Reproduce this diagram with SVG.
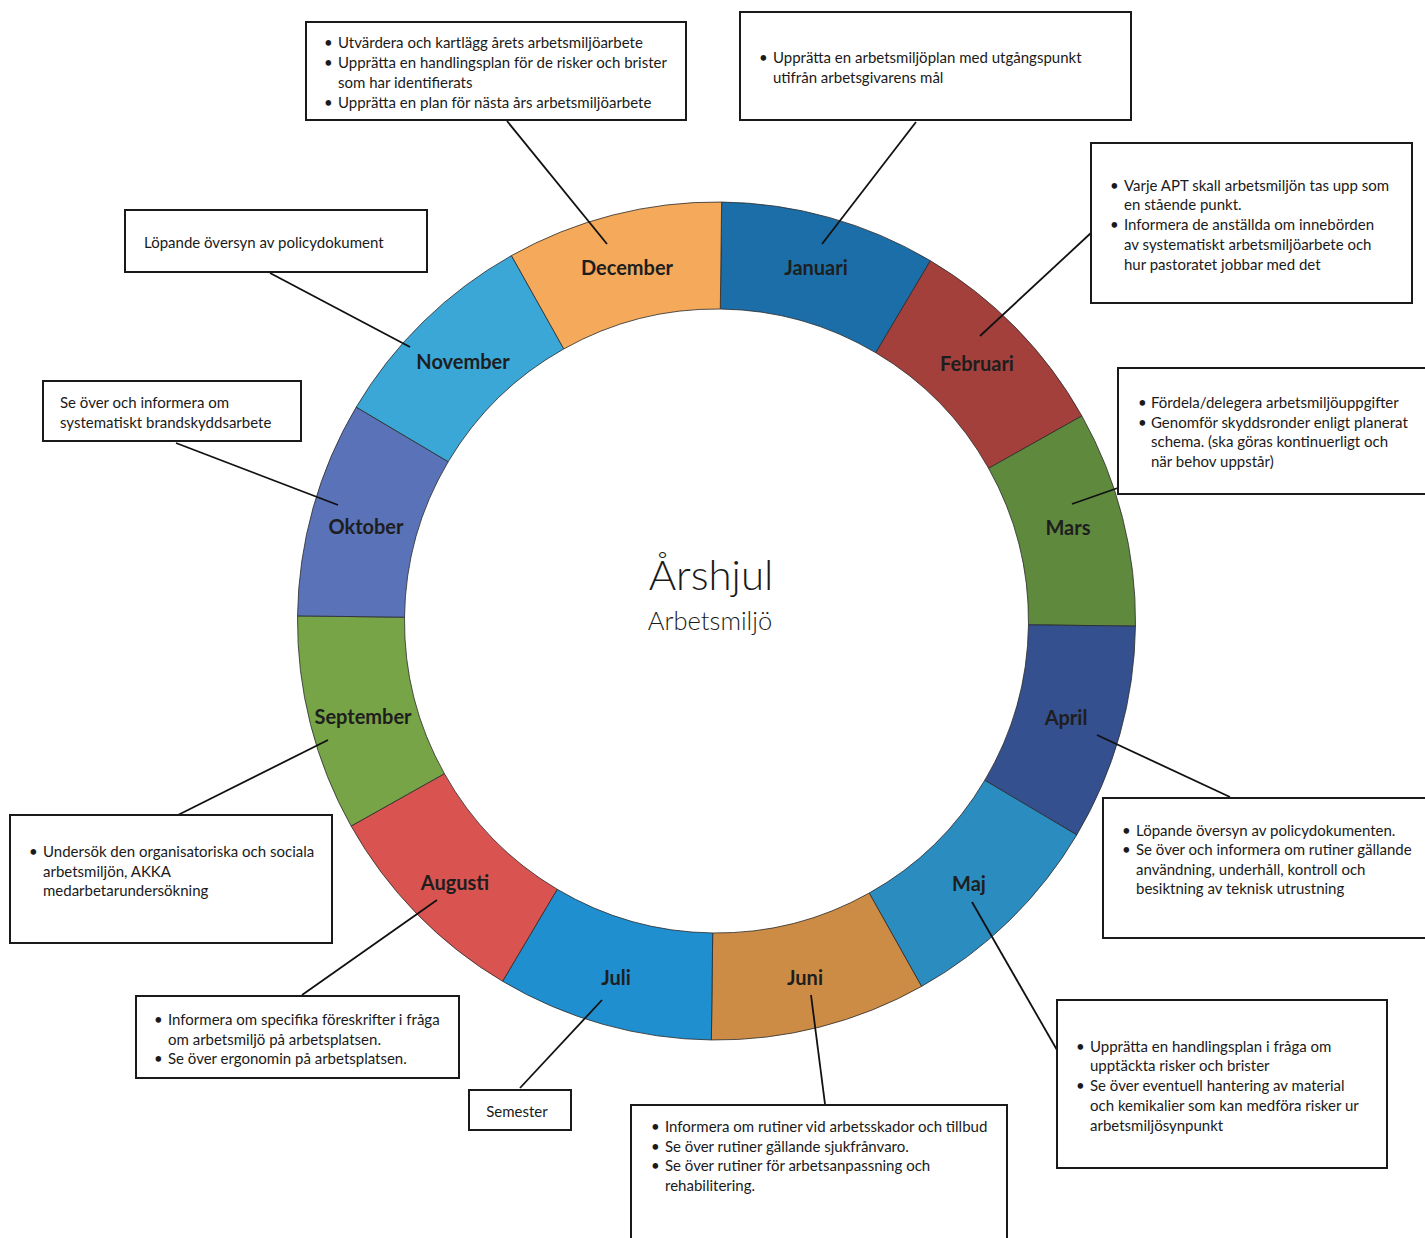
<svg xmlns="http://www.w3.org/2000/svg" width="1425" height="1238" viewBox="0 0 1425 1238">
<style>
.seg{stroke:#2a2a2a;stroke-width:0.8}
.box{fill:#fff;stroke:#1a1a1a;stroke-width:2}
.t{font-family:Lato,"Liberation Sans",sans-serif;font-size:15px;fill:#1a1a1a}
.m{font-family:Lato,"Liberation Sans",sans-serif;font-size:20px;font-weight:bold;fill:#1e1e1e;text-anchor:middle}
.c{stroke:#111;stroke-width:1.8;fill:none}
</style>
<rect width="1425" height="1238" fill="#fff"/>
<g id="wheel" transform="rotate(0.7 716.5 621)">
<path id="seg-januari" class="seg" fill="#1b6ea8" d="M716.5,202 A419,419 0 0 1 926,258.14 L872.5,350.8 A312,312 0 0 0 716.5,309 Z"/>
<path id="seg-februari" class="seg" fill="#a4403c" d="M926,258.14 A419,419 0 0 1 1079.36,411.5 L986.7,465 A312,312 0 0 0 872.5,350.8 Z"/>
<path id="seg-mars" class="seg" fill="#5f8a3e" d="M1079.36,411.5 A419,419 0 0 1 1135.5,621 L1028.5,621 A312,312 0 0 0 986.7,465 Z"/>
<path id="seg-april" class="seg" fill="#34508f" d="M1135.5,621 A419,419 0 0 1 1079.36,830.5 L986.7,777 A312,312 0 0 0 1028.5,621 Z"/>
<path id="seg-maj" class="seg" fill="#2b8cc0" d="M1079.36,830.5 A419,419 0 0 1 926,983.86 L872.5,891.2 A312,312 0 0 0 986.7,777 Z"/>
<path id="seg-juni" class="seg" fill="#cc8c45" d="M926,983.86 A419,419 0 0 1 716.5,1040 L716.5,933 A312,312 0 0 0 872.5,891.2 Z"/>
<path id="seg-juli" class="seg" fill="#1f8fd0" d="M716.5,1040 A419,419 0 0 1 507,983.86 L560.5,891.2 A312,312 0 0 0 716.5,933 Z"/>
<path id="seg-augusti" class="seg" fill="#d95450" d="M507,983.86 A419,419 0 0 1 353.64,830.5 L446.3,777 A312,312 0 0 0 560.5,891.2 Z"/>
<path id="seg-september" class="seg" fill="#76a446" d="M353.64,830.5 A419,419 0 0 1 297.5,621 L404.5,621 A312,312 0 0 0 446.3,777 Z"/>
<path id="seg-oktober" class="seg" fill="#5a72b8" d="M297.5,621 A419,419 0 0 1 353.64,411.5 L446.3,465 A312,312 0 0 0 404.5,621 Z"/>
<path id="seg-november" class="seg" fill="#3aa7d6" d="M353.64,411.5 A419,419 0 0 1 507,258.14 L560.5,350.8 A312,312 0 0 0 446.3,465 Z"/>
<path id="seg-december" class="seg" fill="#f4a95b" d="M507,258.14 A419,419 0 0 1 716.5,202 L716.5,309 A312,312 0 0 0 560.5,350.8 Z"/>
</g>
<g id="month-labels">
<text class="m" x="816" y="275">Januari</text>
<text class="m" x="977" y="371">Februari</text>
<text class="m" x="1068" y="535">Mars</text>
<text class="m" x="1066" y="725">April</text>
<text class="m" x="969" y="891">Maj</text>
<text class="m" x="805" y="985">Juni</text>
<text class="m" x="616" y="985">Juli</text>
<text class="m" x="455" y="890">Augusti</text>
<text class="m" x="363" y="724">September</text>
<text class="m" x="366" y="534">Oktober</text>
<text class="m" x="463" y="369">November</text>
<text class="m" x="627" y="275">December</text>
</g>
<g id="center-title" font-family="Lato,'Liberation Sans',sans-serif" fill="#1a1a1a" text-anchor="middle">
<text x="711" y="590" font-size="42" font-weight="300">Årshjul</text>
<text x="710" y="630" font-size="25.5" font-weight="300">Arbetsmiljö</text>
</g>
<g id="connectors">
<line class="c" x1="507" y1="121" x2="607" y2="244"/>
<line class="c" x1="916" y1="122" x2="822" y2="244"/>
<line class="c" x1="1092" y1="232" x2="980" y2="336"/>
<line class="c" x1="1072" y1="504" x2="1175" y2="468"/>
<line class="c" x1="1097" y1="735" x2="1230" y2="797"/>
<line class="c" x1="972" y1="902" x2="1057" y2="1050"/>
<line class="c" x1="811" y1="995" x2="825" y2="1104"/>
<line class="c" x1="602" y1="1000" x2="520" y2="1088"/>
<line class="c" x1="437" y1="900" x2="302" y2="995"/>
<line class="c" x1="328" y1="740" x2="172" y2="818"/>
<line class="c" x1="176" y1="443" x2="338" y2="505"/>
<line class="c" x1="270" y1="273" x2="410" y2="347"/>
</g>
<g id="box-december">
<rect class="box" x="306" y="22" width="380" height="98"/>
<text class="t" x="324" y="48">•</text><text class="t" x="338" y="48">Utvärdera och kartlägg årets arbetsmiljöarbete</text>
<text class="t" x="324" y="68">•</text><text class="t" x="338" y="68">Upprätta en handlingsplan för de risker och brister</text>
<text class="t" x="338" y="88">som har identifierats</text>
<text class="t" x="324" y="108">•</text><text class="t" x="338" y="108">Upprätta en plan för nästa års arbetsmiljöarbete</text>
</g>
<g id="box-januari">
<rect class="box" x="740" y="12" width="391" height="108"/>
<text class="t" x="759" y="63">•</text><text class="t" x="773" y="63">Upprätta en arbetsmiljöplan med utgångspunkt</text>
<text class="t" x="773" y="83">utifrån arbetsgivarens mål</text>
</g>
<g id="box-februari">
<rect class="box" x="1091" y="143" width="321" height="160"/>
<text class="t" x="1110" y="191">•</text><text class="t" x="1124" y="191">Varje APT skall arbetsmiljön tas upp som</text>
<text class="t" x="1124" y="210">en stående punkt.</text>
<text class="t" x="1110" y="230">•</text><text class="t" x="1124" y="230">Informera de anställda om innebörden</text>
<text class="t" x="1124" y="250">av systematiskt arbetsmiljöarbete och</text>
<text class="t" x="1124" y="270">hur pastoratet jobbar med det</text>
</g>
<g id="box-mars">
<path class="box" d="M1425,368 H1118 V494 H1425"/>
<text class="t" x="1138" y="408">•</text><text class="t" x="1151" y="408">Fördela/delegera arbetsmiljöuppgifter</text>
<text class="t" x="1138" y="428">•</text><text class="t" x="1151" y="428">Genomför skyddsronder enligt planerat</text>
<text class="t" x="1151" y="447">schema. (ska göras kontinuerligt och</text>
<text class="t" x="1151" y="467">när behov uppstår)</text>
</g>
<g id="box-april">
<path class="box" d="M1425,798 H1103 V938 H1425"/>
<text class="t" x="1122" y="836">•</text><text class="t" x="1136" y="836">Löpande översyn av policydokumenten.</text>
<text class="t" x="1122" y="855">•</text><text class="t" x="1136" y="855">Se över och informera om rutiner gällande</text>
<text class="t" x="1136" y="875">användning, underhåll, kontroll och</text>
<text class="t" x="1136" y="894">besiktning av teknisk utrustning</text>
</g>
<g id="box-maj">
<rect class="box" x="1057" y="1000" width="330" height="168"/>
<text class="t" x="1076" y="1052">•</text><text class="t" x="1090" y="1052">Upprätta en handlingsplan i fråga om</text>
<text class="t" x="1090" y="1071">upptäckta risker och brister</text>
<text class="t" x="1076" y="1091">•</text><text class="t" x="1090" y="1091">Se över eventuell hantering av material</text>
<text class="t" x="1090" y="1111">och kemikalier som kan medföra risker ur</text>
<text class="t" x="1090" y="1131">arbetsmiljösynpunkt</text>
</g>
<g id="box-juni">
<path class="box" d="M631,1238 V1105 H1007 V1238"/>
<text class="t" x="651" y="1132">•</text><text class="t" x="665" y="1132">Informera om rutiner vid arbetsskador och tillbud</text>
<text class="t" x="651" y="1152">•</text><text class="t" x="665" y="1152">Se över rutiner gällande sjukfrånvaro.</text>
<text class="t" x="651" y="1171">•</text><text class="t" x="665" y="1171">Se över rutiner för arbetsanpassning och</text>
<text class="t" x="665" y="1191">rehabilitering.</text>
</g>
<g id="box-juli">
<rect class="box" x="469" y="1090" width="102" height="40"/>
<text class="t" x="517" y="1117" text-anchor="middle">Semester</text>
</g>
<g id="box-augusti">
<rect class="box" x="136" y="996" width="323" height="82"/>
<text class="t" x="154" y="1025">•</text><text class="t" x="168" y="1025">Informera om specifika föreskrifter i fråga</text>
<text class="t" x="168" y="1045">om arbetsmiljö på arbetsplatsen.</text>
<text class="t" x="154" y="1064">•</text><text class="t" x="168" y="1064">Se över ergonomin på arbetsplatsen.</text>
</g>
<g id="box-september">
<rect class="box" x="10" y="815" width="322" height="128"/>
<text class="t" x="29" y="857">•</text><text class="t" x="43" y="857">Undersök den organisatoriska och sociala</text>
<text class="t" x="43" y="877">arbetsmiljön, AKKA</text>
<text class="t" x="43" y="896">medarbetarundersökning</text>
</g>
<g id="box-oktober">
<rect class="box" x="43" y="381" width="258" height="60"/>
<text class="t" x="60" y="408">Se över och informera om</text>
<text class="t" x="60" y="428">systematiskt brandskyddsarbete</text>
</g>
<g id="box-november">
<rect class="box" x="125" y="210" width="302" height="62"/>
<text class="t" x="144" y="248">Löpande översyn av policydokument</text>
</g>
</svg>
